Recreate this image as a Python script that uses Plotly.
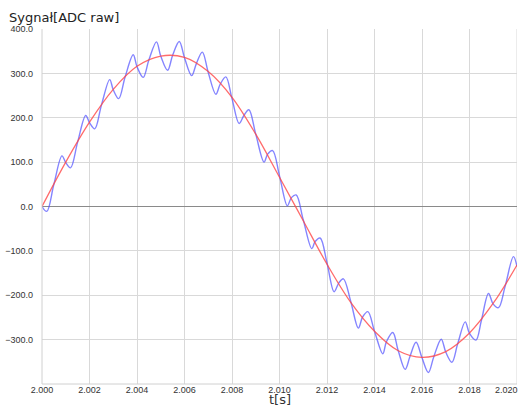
import plotly.graph_objects as go

# Filtered (fundamental) signal, sampled every 1 ms
t_fund = [2.000, 2.001, 2.002, 2.003, 2.004, 2.005, 2.006, 2.007, 2.008, 2.009,
          2.010, 2.011, 2.012, 2.013, 2.014, 2.015, 2.016, 2.017, 2.018, 2.019, 2.020]
v_fund = [0, 100, 190, 264, 316, 339, 336, 304, 246, 163,
          66, -32, -130, -216, -281, -325, -340, -327, -285, -218, -132]

# Raw ADC samples: ripple peaks/troughs and crossings of the fundamental
t_raw = [2.0000, 2.0002, 2.0005, 2.00084, 2.0010, 2.0012, 2.0015, 2.00184, 2.0020, 2.00222,
         2.0025, 2.00285, 2.0030, 2.00323, 2.0035, 2.00384, 2.0040, 2.00426, 2.0045, 2.00482,
         2.0050, 2.00529, 2.0055, 2.00578, 2.0060, 2.0063, 2.0065, 2.00675, 2.0070, 2.00732,
         2.0075, 2.00774, 2.0080, 2.0083, 2.0085, 2.00871, 2.0090, 2.00935, 2.0095, 2.00971,
         2.0100, 2.01033, 2.0105, 2.0107, 2.0110, 2.01136, 2.0115, 2.01171, 2.0120, 2.0123,
         2.0125, 2.01269, 2.0130, 2.01332, 2.0135, 2.01372, 2.0140, 2.01435, 2.0145, 2.01477,
         2.0150, 2.01529, 2.0155, 2.01575, 2.0160, 2.01627, 2.0165, 2.01681, 2.0170, 2.01726,
         2.0175, 2.01782, 2.0180, 2.01827, 2.0185, 2.0188, 2.0190, 2.01922, 2.0195, 2.01985,
         2.0200]
v_raw = [0, -11, 50, 114, 99, 87, 145, 205, 189, 175,
         228, 286, 263, 243, 292, 342, 315, 291, 330, 371,
         339, 307, 341, 372, 335, 295, 322, 348, 302, 253,
         275, 292, 243, 187, 205, 218, 163, 100, 118, 126,
         69, 1.5, 20, 26, -30, -95, -79, -71, -127, -192,
         -172, -163, -214, -274, -249, -237, -281, -332, -305, -284,
         -325, -367, -337, -306, -341, -374, -338, -299, -328, -351,
         -310, -260, -286, -301, -257, -196, -220, -228, -180, -113,
         -135]

x_ticks = [2.000, 2.002, 2.004, 2.006, 2.008, 2.010, 2.012, 2.014, 2.016, 2.018, 2.020]
y_ticks = [400, 300, 200, 100, 0, -100, -200, -300]

X_MIN, X_MAX = 2.000, 2.020

fig = go.Figure()
fig.add_trace(go.Scatter(
    x=t_raw, y=v_raw, mode="lines",
    line=dict(color="rgba(80,80,255,0.7)", width=1.4, shape="spline", smoothing=1.0),
    hoverinfo="skip", showlegend=False))
fig.add_trace(go.Scatter(
    x=t_fund, y=v_fund, mode="lines",
    line=dict(color="rgba(255,70,70,0.8)", width=1.3, shape="spline", smoothing=1.0),
    hoverinfo="skip", showlegend=False))

axis_font = dict(family="Liberation Sans, Arial, sans-serif", size=9, color="#333333")

# the last x label sits against the right edge, so it is drawn as an annotation
inner_ticks = [v for v in x_ticks if v < X_MAX - 1e-9]
edge_ticks = [v for v in x_ticks if v >= X_MAX - 1e-9]

annotations = [
    dict(text="Sygnał[ADC raw]", xref="paper", yref="paper",
         x=0, xshift=-35, y=1.0, yshift=2, xanchor="left", yanchor="bottom",
         showarrow=False,
         font=dict(family="DejaVu Sans, sans-serif", size=13, color="#222222")),
    dict(text="t[s]", xref="paper", yref="paper",
         x=0.5, y=0, yshift=-24, xanchor="center", yanchor="bottom",
         showarrow=False, borderpad=0,
         font=dict(family="DejaVu Sans, sans-serif", size=13, color="#333333")),
]
for v in edge_ticks:
    annotations.append(dict(
        text=f"{v:.3f}", x=v, xref="x", y=0, yref="paper",
        xanchor="right", yanchor="top", xshift=3, yshift=1,
        showarrow=False, font=axis_font))

shapes = [
    dict(type="line", xref="paper", yref="paper", x0=0, x1=1, y0=0, y1=0,
         line=dict(color="#d0d0d0", width=1)),
    dict(type="line", xref="paper", yref="paper", x0=0, x1=0, y0=0, y1=1,
         line=dict(color="#d0d0d0", width=1)),
]
for v in edge_ticks:
    shapes.append(dict(type="line", xref="x", yref="paper", x0=v, x1=v, y0=0, y1=1,
                       line=dict(color="#d9d9d9", width=1), layer="below"))

fig.update_layout(
    width=525, height=408,
    margin=dict(l=42, r=8, t=29, b=24),
    paper_bgcolor="white", plot_bgcolor="white",
    xaxis=dict(
        range=[X_MIN, X_MAX], tickvals=inner_ticks, tickformat=".3f",
        showgrid=True, gridcolor="#d9d9d9", gridwidth=1,
        zeroline=False, showline=False, automargin=False,
        ticks="", ticklabelstandoff=-1, tickfont=axis_font,
    ),
    yaxis=dict(
        range=[-400, 400], tickvals=y_ticks, tickformat=".1f",
        showgrid=True, gridcolor="#d9d9d9", gridwidth=1,
        zeroline=True, zerolinecolor="#8a8a8a", zerolinewidth=1,
        showline=False, automargin=False,
        ticks="", ticklabelstandoff=8, tickfont=axis_font,
    ),
    shapes=shapes,
    annotations=annotations,
)

fig.write_html("out.html")
